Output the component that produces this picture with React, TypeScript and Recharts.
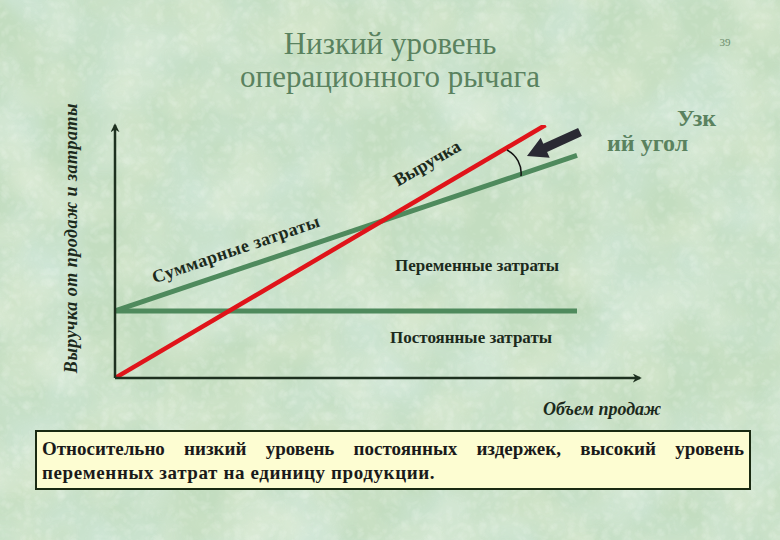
import React from 'react';
import { LineChart, Line, XAxis, YAxis } from 'recharts';

// sales volume (x) and money (y), both on a 0..100 scale
const revenueX = [0, 82];
const revenueY = [0, 100];
const totalCostX = [0, 88];
const totalCostY = [26.5, 88];
const fixedCostX = [0, 88];
const fixedCostY = [26.5, 26.5];

const toPoints = (xs: number[], ys: number[]) => xs.map((x, i) => ({ x, y: ys[i] }));

const revenueData = toPoints(revenueX, revenueY);
const totalCostData = toPoints(totalCostX, totalCostY);
const fixedCostData = toPoints(fixedCostX, fixedCostY);

const AXIS = '#1d301f';
const RED = '#e0141a';
const GREEN = '#4f8a5d';
const TITLE = '#5a825f';
const INK = '#1c2a1c';

const serif = '"Liberation Serif", "DejaVu Serif", serif';

export default function App() {
  return (
    <div
      style={{
        position: 'absolute',
        left: 0,
        top: 0,
        width: 780,
        height: 540,
        overflow: 'hidden',
        fontFamily: serif,
      }}
    >
      <svg width={780} height={540} style={{ position: 'absolute', left: 0, top: 0 }}>
        <defs>
          <filter id="blotch" x="0" y="0" width="100%" height="100%">
            <feTurbulence type="fractalNoise" baseFrequency="0.012" numOctaves="3" seed="7" />
            <feColorMatrix
              type="matrix"
              values="0 0 0 0 0.68  0 0 0 0 0.84  0 0 0 0 0.80  0 0 0 1.6 -0.55"
            />
          </filter>
          <filter id="blotch2" x="0" y="0" width="100%" height="100%">
            <feTurbulence type="fractalNoise" baseFrequency="0.018" numOctaves="2" seed="21" />
            <feColorMatrix
              type="matrix"
              values="0 0 0 0 0.84  0 0 0 0 0.89  0 0 0 0 0.72  0 0 0 1.6 -0.6"
            />
          </filter>
          <filter id="grain" x="0" y="0" width="100%" height="100%">
            <feTurbulence type="turbulence" baseFrequency="0.09" numOctaves="2" seed="3" />
            <feColorMatrix
              type="matrix"
              values="0 0 0 0 0.93  0 0 0 0 0.97  0 0 0 0 0.92  0 0 0 1.2 -0.25"
            />
          </filter>
          <marker
            id="axisArrow"
            viewBox="0 0 10 10"
            refX="8"
            refY="5"
            markerWidth="3.6"
            markerHeight="3.6"
            orient="auto-start-reverse"
          >
            <path d="M0,0 L10,5 L0,10 L3,5 z" fill={AXIS} />
          </marker>
        </defs>
        <rect width={780} height={540} fill="#c3ddc0" />
        <rect width={780} height={540} filter="url(#blotch)" opacity={0.7} />
        <rect width={780} height={540} filter="url(#blotch2)" opacity={0.6} />
        <rect width={780} height={540} filter="url(#grain)" opacity={0.4} />
      </svg>

      <LineChart
        width={780}
        height={540}
        margin={{ top: 125, right: 140, bottom: 161, left: 114 }}
        style={{ position: 'absolute', left: 0, top: 0 }}
      >
        <XAxis
          type="number"
          dataKey="x"
          domain={[0, 100]}
          allowDataOverflow
          tick={false}
          tickLine={false}
          height={1}
          axisLine={{ stroke: AXIS, strokeWidth: 2.5, markerEnd: 'url(#axisArrow)' }}
        />
        <YAxis
          type="number"
          dataKey="y"
          domain={[0, 100]}
          allowDataOverflow
          tick={false}
          tickLine={false}
          width={1}
          axisLine={{ stroke: AXIS, strokeWidth: 2.5, markerStart: 'url(#axisArrow)' }}
        />
        <Line
          data={fixedCostData}
          dataKey="y"
          type="linear"
          stroke={GREEN}
          strokeWidth={5}
          dot={false}
          activeDot={false}
          isAnimationActive={false}
        />
        <Line
          data={totalCostData}
          dataKey="y"
          type="linear"
          stroke={GREEN}
          strokeWidth={5}
          dot={false}
          activeDot={false}
          isAnimationActive={false}
        />
        <Line
          data={revenueData}
          dataKey="y"
          type="linear"
          stroke={RED}
          strokeWidth={4.5}
          dot={false}
          activeDot={false}
          isAnimationActive={false}
        />
      </LineChart>

      <svg
        width={780}
        height={540}
        style={{ position: 'absolute', left: 0, top: 0, pointerEvents: 'none' }}
        fontFamily={serif}
      >
        <text x={390} y={54} textAnchor="middle" fontSize={31} fill={TITLE}>
          Низкий уровень
        </text>
        <text x={390} y={87} textAnchor="middle" fontSize={31} fill={TITLE}>
          операционного рычага
        </text>
        <text x={725} y={46} textAnchor="middle" fontSize={11} fill="#6d8d6d">
          39
        </text>
        <text x={677} y={126} fontSize={24} fontWeight="bold" fill={TITLE}>
          Узк
        </text>
        <text x={607} y={151} fontSize={24} fontWeight="bold" fill={TITLE}>
          ий угол
        </text>

        <text
          transform="translate(71,238) rotate(-90)"
          textAnchor="middle"
          dominantBaseline="central"
          fontSize={18}
          fontStyle="italic"
          fontWeight="bold"
          letterSpacing={0.5}
          fill={INK}
        >
          Выручка от продаж и затраты
        </text>

        <text
          transform="translate(427,163) rotate(-30)"
          textAnchor="middle"
          dominantBaseline="central"
          fontSize={18}
          fontWeight="bold"
          fill={INK}
        >
          Выручка
        </text>
        <text
          transform="translate(236,249) rotate(-19)"
          textAnchor="middle"
          dominantBaseline="central"
          fontSize={18}
          fontWeight="bold"
          letterSpacing={0.5}
          fill={INK}
        >
          Суммарные затраты
        </text>
        <text x={395} y={271} fontSize={17} fontWeight="bold" fill={INK}>
          Переменные затраты
        </text>
        <text x={390} y={343} fontSize={17} fontWeight="bold" fill={INK}>
          Постоянные затраты
        </text>
        <text x={543} y={415} fontSize={18} fontStyle="italic" fontWeight="bold" fill={INK}>
          Объем продаж
        </text>

        {/* narrow angle mark */}
        <path d="M 507 150 A 26 26 0 0 1 521 176" fill="none" stroke="#111" strokeWidth={1.5} />
        <polygon
          points="581.9,136.1 578.1,127.9 543.3,143.7 540.7,137.8 527,156 549.7,157.8 547.1,151.9"
          fill="#2a2a33"
        />
      </svg>

      <div
        style={{
          position: 'absolute',
          left: 35,
          top: 430,
          width: 716,
          height: 60,
          border: '2px solid #1a2a12',
          background: '#fdfdd2',
          padding: '5px 5px 0 5px',
          boxSizing: 'border-box',
          fontFamily: serif,
          fontSize: 19,
          fontWeight: 'bold',
          lineHeight: '24px',
          color: '#1a1a1a',
        }}
      >
        <div style={{ textAlign: 'justify', textAlignLast: 'justify', whiteSpace: 'nowrap' }}>
          Относительно низкий уровень постоянных издержек, высокий уровень
        </div>
        <div style={{ letterSpacing: 0.6 }}>переменных затрат на единицу продукции.</div>
      </div>
    </div>
  );
}
